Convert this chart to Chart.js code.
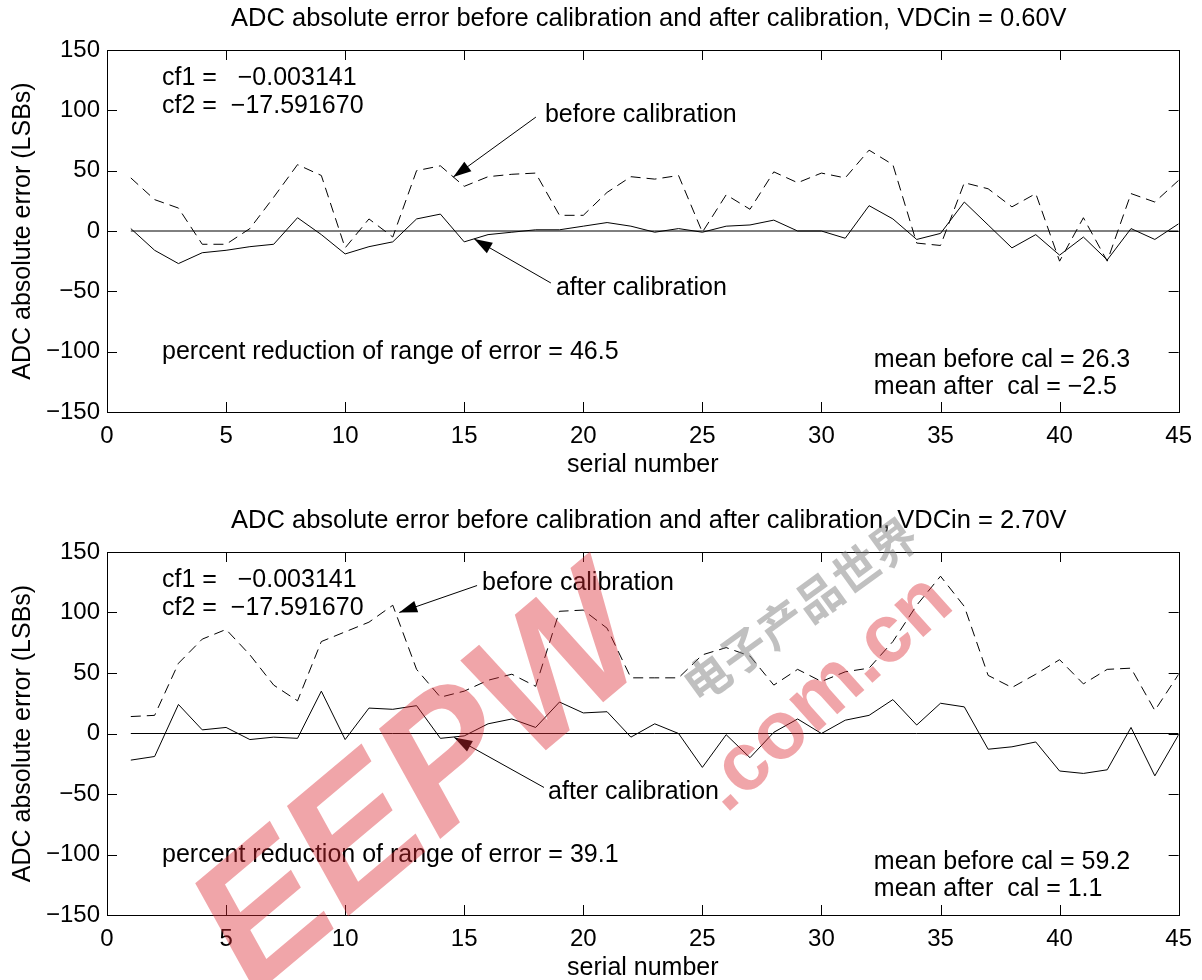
<!DOCTYPE html>
<html>
<head>
<meta charset="utf-8">
<script src="https://cdn.jsdelivr.net/npm/chart.js@4.4.1/dist/chart.umd.min.js"></script>
<style>
body{margin:0;background:#fff;}
#wrap{position:relative;width:1202px;height:980px;overflow:hidden;}
canvas{position:absolute;left:0;}
#c1{top:0;}
#c2{top:502px;}
</style>
</head>
<body>
<div id="wrap">
<canvas id="c1" width="1202" height="480"></canvas>
<canvas id="c2" width="1202" height="481"></canvas>
</div>
<script>
// serial numbers of the 45 parts
var serial = [1,2,3,4,5,6,7,8,9,10,11,12,13,14,15,16,17,18,19,20,21,22,23,24,25,26,27,28,29,30,31,32,33,34,35,36,37,38,39,40,41,42,43,44,45];

// VDCin = 0.60V
var before060 = [44,26,19,-11,-11,2,28,55,46,-14,10,-5,50,54,37,45,47,48,13,13,32,45,43,46,-1,30,18,49,40,48,44,67,55,-10,-12,40,35,20,31,-25,11,-25,31,24,42];
var after060  = [2,-16,-27,-18,-16,-13,-11,11,-3,-19,-13,-9,10,14,-9,-3,-1,1,1,4,7,4,-1,2,-1,4,5,9,0,0,-6,21,10,-7,-2,24,5,-14,-3,-20,-5,-24,2,-7,6];

// VDCin = 2.70V
var before270 = [14,15,58,78,86,65,40,27,76,84,92,106,53,30,35,44,49,39,101,102,87,46,46,46,65,71,64,40,53,43,51,54,76,106,130,105,48,38,49,61,41,53,54,19,49];
var after270  = [-22,-19,24,3,5,-5,-3,-4,35,-5,21,20,23,-4,-2,8,12,5,26,17,18,-3,8,0,-28,-1,-20,1,12,0,11,15,28,7,25,22,-13,-11,-7,-31,-33,-30,5,-35,-1];

// zero reference line
var zeroX = [1,45];
var zeroY = [0,0];

var xTicks = [0,5,10,15,20,25,30,35,40,45];
var yTicks = [-150,-100,-50,0,50,100,150];

var FONT = '"Liberation Sans", Arial, Helvetica, sans-serif';

function minus(v){ return String(v).replace('-', '\u2212'); }

function pts(xs, ys){
	return xs.map(function(x, i){ return {x: x, y: ys[i]}; });
}

var framePlugin = {
	id: 'frame',
	afterDraw: function(chart){
		var ctx = chart.ctx, a = chart.chartArea;
		var sx = chart.scales.x, sy = chart.scales.y;
		var o = chart.options.plugins.frame;
		ctx.save();
		ctx.strokeStyle = '#000';
		ctx.fillStyle = '#000';
		ctx.lineWidth = 1;
		ctx.strokeRect(Math.round(a.left)+0.5, Math.round(a.top)+0.5, Math.round(a.right-a.left), Math.round(a.bottom-a.top));

		// inward ticks
		ctx.beginPath();
		xTicks.forEach(function(v){
			var px = Math.round(sx.getPixelForValue(v))+0.5;
			ctx.moveTo(px, a.bottom); ctx.lineTo(px, a.bottom-10);
			ctx.moveTo(px, a.top); ctx.lineTo(px, a.top+10);
		});
		yTicks.forEach(function(v){
			var py = Math.round(sy.getPixelForValue(v))+0.5;
			ctx.moveTo(a.left, py); ctx.lineTo(a.left+10, py);
			ctx.moveTo(a.right, py); ctx.lineTo(a.right-10, py);
		});
		ctx.stroke();

		// title, centred over the axes
		ctx.font = '25.5px ' + FONT;
		ctx.textAlign = 'center';
		ctx.textBaseline = 'middle';
		ctx.fillText(o.title, (a.left + a.right)/2 + 6, 19);

		// notes
		ctx.font = '25px ' + FONT;
		ctx.textAlign = 'left';
		o.notes.forEach(function(n){
			ctx.fillText(n.text, sx.getPixelForValue(n.x), sy.getPixelForValue(n.y));
		});

		// arrows
		o.arrows.forEach(function(r){
			var x0 = sx.getPixelForValue(r.from[0]), y0 = sy.getPixelForValue(r.from[1]);
			var x1 = sx.getPixelForValue(r.to[0]), y1 = sy.getPixelForValue(r.to[1]);
			var ang = Math.atan2(y1-y0, x1-x0);
			var c = Math.cos(ang), s = Math.sin(ang);
			ctx.beginPath();
			ctx.moveTo(x0, y0); ctx.lineTo(x1, y1);
			ctx.stroke();
			ctx.beginPath();
			ctx.moveTo(x1, y1);
			ctx.lineTo(x1 - 18*c + 6*s, y1 - 18*s - 6*c);
			ctx.lineTo(x1 - 18*c - 6*s, y1 - 18*s + 6*c);
			ctx.closePath();
			ctx.fill();
		});

		// watermark
		if (o.watermark){
			ctx.save();
			ctx.translate(425, 285);
			ctx.rotate(-40*Math.PI/180);
			ctx.font = 'italic bold 180px ' + FONT;
			ctx.textAlign = 'center';
			ctx.fillStyle = 'rgba(220,40,50,0.42)';
			ctx.fillText('EEPW', 0, 0);
			ctx.restore();

			ctx.save();
			ctx.translate(826, 192);
			ctx.rotate(-42*Math.PI/180);
			ctx.font = 'bold 82px ' + FONT;
			ctx.textAlign = 'center';
			ctx.fillStyle = 'rgba(220,40,50,0.42)';
			ctx.fillText('.com.cn', 0, 0);
			ctx.restore();

			ctx.save();
			ctx.translate(800, 108);
			ctx.rotate(-36*Math.PI/180);
			ctx.font = 'bold 46px "Noto Sans CJK SC"';
			ctx.textAlign = 'center';
			ctx.fillStyle = 'rgba(130,130,130,0.5)';
			ctx.fillText('电子产品世界', 0, 0);
			ctx.restore();
		}
		ctx.restore();
	}
};

function buildChart(id, before, after, xh, frame){
	return new Chart(document.getElementById(id), {
		type: 'line',
		data: {
			datasets: [
				{ data: pts(serial, before), borderColor: '#000', borderWidth: 1, borderDash: [10,6], pointRadius: 0, tension: 0, fill: false },
				{ data: pts(serial, after), borderColor: '#000', borderWidth: 1, pointRadius: 0, tension: 0, fill: false },
				{ data: pts(zeroX, zeroY), borderColor: '#000', borderWidth: 1, pointRadius: 0, fill: false }
			]
		},
		options: {
			responsive: false,
			animation: false,
			devicePixelRatio: 1,
			layout: { padding: { top: 50, right: 21, left: 0, bottom: 0 } },
			plugins: {
				legend: { display: false },
				tooltip: { enabled: false },
				title: { display: false },
				frame: frame
			},
			scales: {
				x: {
					type: 'linear', min: 0, max: 45,
					afterFit: function(s){ s.height = xh; },
					afterBuildTicks: function(s){ s.ticks = xTicks.map(function(v){ return {value: v}; }); },
					grid: { display: false, drawTicks: false },
					border: { display: false },
					ticks: { color: '#000', font: { size: 24, family: FONT }, padding: 10, maxRotation: 0 },
					title: { display: true, text: 'serial number', color: '#000', font: { size: 25, family: FONT }, padding: { top: 0, bottom: 0 } }
				},
				y: {
					type: 'linear', min: -150, max: 150,
					afterFit: function(s){ s.width = 107; },
					afterBuildTicks: function(s){ s.ticks = yTicks.map(function(v){ return {value: v}; }); },
					grid: { display: false, drawTicks: false },
					border: { display: false },
					ticks: { color: '#000', font: { size: 24, family: FONT }, padding: 7, callback: function(v){ return minus(v); } },
					title: { display: true, text: 'ADC absolute error (LSBs)', color: '#000', font: { size: 25, family: FONT }, padding: { top: 8, bottom: 0 } }
				}
			}
		},
		plugins: [framePlugin]
	});
}

buildChart('c1', before060, after060, 68, {
	title: 'ADC absolute error before calibration and after calibration, VDCin = 0.60V',
	notes: [
		{ text: 'cf1 =   \u22120.003141', x: 2.31, y: 126.8 },
		{ text: 'cf2 =  \u221217.591670', x: 2.31, y: 103.6 },
		{ text: 'before calibration', x: 18.39, y: 96.1 },
		{ text: 'after calibration', x: 18.85, y: -47.2 },
		{ text: 'percent reduction of range of error = 46.5', x: 2.31, y: -100 },
		{ text: 'mean before cal = 26.3', x: 32.2, y: -106.9 },
		{ text: 'mean after  cal = \u22122.5', x: 32.2, y: -129.2 }
	],
	arrows: [
		{ from: [18.01, 94.4], to: [14.54, 44.7] },
		{ from: [18.64, -43.1], to: [15.42, -6.6] }
	],
	watermark: false
});

buildChart('c2', before270, after270, 68, {
	title: 'ADC absolute error before calibration and after calibration, VDCin = 2.70V',
	notes: [
		{ text: 'cf1 =   \u22120.003141', x: 2.31, y: 126.4 },
		{ text: 'cf2 =  \u221217.591670', x: 2.31, y: 103.3 },
		{ text: 'before calibration', x: 15.75, y: 124 },
		{ text: 'after calibration', x: 18.52, y: -48.8 },
		{ text: 'percent reduction of range of error = 39.1', x: 2.31, y: -100.8 },
		{ text: 'mean before cal = 59.2', x: 32.2, y: -106.6 },
		{ text: 'mean after  cal = 1.1', x: 32.2, y: -128.9 }
	],
	arrows: [
		{ from: [15.54, 122.3], to: [12.27, 100] },
		{ from: [18.35, -44.6], to: [14.58, -3.3] }
	],
	watermark: true
});
</script>
</body>
</html>
